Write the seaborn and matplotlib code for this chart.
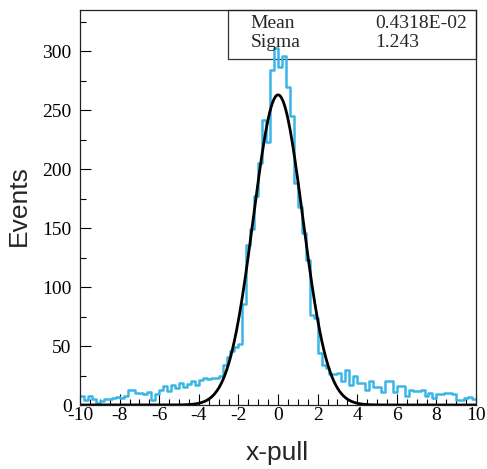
import numpy as np
import pandas as pd
import matplotlib.pyplot as plt
from matplotlib.ticker import MultipleLocator
from matplotlib.patches import Rectangle
import seaborn as sns

# histogram: 100 bins of width 0.2 between -10 and 10
bin_lo, bin_hi, bin_w = -10, 10, 0.2
counts = [8, 4, 8, 5, 2, 3, 5, 5, 6, 7,
          6, 8, 13, 13, 10, 10, 9, 11, 4, 9,
          13, 16, 12, 17, 14, 19, 15, 18, 20, 17,
          21, 23, 22, 23, 23, 25, 34, 41, 46, 49,
          52, 86, 136, 149, 177, 205, 242, 223, 284, 303,
          287, 296, 270, 245, 188, 168, 146, 123, 76, 74,
          44, 34, 31, 26, 26, 27, 20, 30, 17, 25,
          19, 19, 13, 20, 15, 15, 11, 20, 20, 11,
          16, 16, 8, 13, 12, 12, 13, 8, 10, 6,
          9, 9, 10, 10, 9, 4, 4, 6, 7, 5]

# gaussian fit
fit_amp = 263.0
fit_mean = 0.4318e-02
fit_sigma = 1.243
stat_names = ["Mean", "Sigma"]
stat_values = ["0.4318E-02", "1.243"]

sns.set_style("ticks")
plt.rcParams['font.family'] = ['Liberation Serif', 'DejaVu Serif']
plt.rcParams['axes.unicode_minus'] = False

fig = plt.figure(figsize=(4.87, 4.69), dpi=100)
ax = fig.add_axes([80/487, 64/469, 396/487, 395/469])

centers = bin_lo + bin_w * (np.arange(len(counts)) + 0.5)
df = pd.DataFrame({"x": centers, "n": counts})
sns.histplot(data=df, x="x", weights="n", binwidth=bin_w, binrange=(bin_lo, bin_hi),
             element="step", fill=False, color="#3ab6e6", linewidth=1.8, ax=ax)

xs = np.linspace(-10, 10, 600)
ys = fit_amp * np.exp(-0.5 * ((xs - fit_mean) / fit_sigma) ** 2)
sns.lineplot(x=xs, y=ys, color="black", linewidth=2, ax=ax)

ax.set_xlim(-10, 10)
ax.set_ylim(0, 335)
ax.xaxis.set_major_locator(MultipleLocator(2))
ax.xaxis.set_minor_locator(MultipleLocator(0.5))
ax.yaxis.set_major_locator(MultipleLocator(50))
ax.yaxis.set_minor_locator(MultipleLocator(25))
ax.tick_params(which="both", direction="in", top=False, right=False,
               labelsize=14, colors="black")
ax.tick_params(which="major", length=8, width=0.8)
ax.tick_params(which="minor", length=4, width=0.8)
ax.tick_params(axis="x", pad=1.5)
ax.tick_params(axis="y", pad=6)
for s in ax.spines.values():
    s.set_color("#222222")
    s.set_linewidth(0.9)

ax.set_xlabel("x-pull", family=["Liberation Sans"], fontsize=19)
ax.set_ylabel("Events", family=["Liberation Sans"], fontsize=19)
ax.xaxis.set_label_coords(0.497, -0.09)
ax.yaxis.set_label_coords(-0.125, 0.506)

# stats box
ax.add_patch(Rectangle((0.3745, 0.875), 0.6255, 0.125, transform=ax.transAxes,
                       fill=False, edgecolor="#333333", linewidth=0.9, clip_on=False))
for i, (nm, val) in enumerate(zip(stat_names, stat_values)):
    yy = 0.966 - i * 0.048
    ax.text(0.431, yy, nm, transform=ax.transAxes, fontsize=14, va="center")
    ax.text(0.745, yy, val, transform=ax.transAxes, fontsize=14, va="center")

fig.savefig("out.png", dpi=100)
